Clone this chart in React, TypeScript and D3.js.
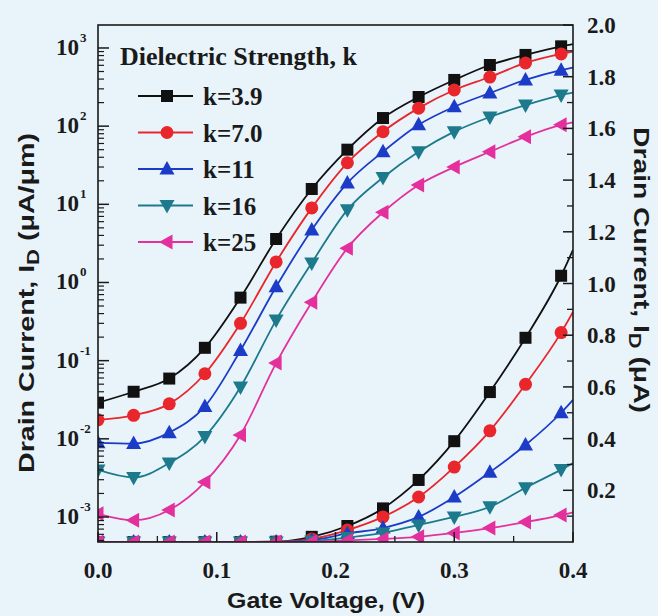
import React from "react";
import * as d3 from "d3";

// Gate voltage sample points (V)
const GATE_V = [0, 0.03, 0.06, 0.09, 0.12, 0.15, 0.18, 0.21, 0.24, 0.27, 0.3, 0.33, 0.36, 0.39];
const EDGE_V = 0.4;

const SERIES_NAMES = ["k=3.9", "k=7.0", "k=11", "k=16", "k=25"];
const SERIES_COLORS = ["#111111", "#e8262c", "#1c3cc8", "#1c7a8c", "#e4309c"];
const SERIES_SHAPES = ["square", "circle", "triUp", "triDown", "triLeft"];

// Drain current on log axis (uA/um)
const LOG_K39 = [0.029, 0.04, 0.059, 0.146, 0.64, 3.6, 15.7, 50, 127, 236, 390, 606, 815, 1050];
const LOG_K70 = [0.0175, 0.02, 0.028, 0.068, 0.3, 1.83, 9.0, 34, 85, 170, 290, 425, 643, 840];
const LOG_K11 = [0.0089, 0.0087, 0.012, 0.026, 0.135, 0.88, 4.7, 18.7, 47, 104, 177, 265, 390, 520];
const LOG_K16 = [0.004, 0.0032, 0.0049, 0.0107, 0.046, 0.33, 1.78, 8.5, 22, 47, 85, 131, 186, 250];
const LOG_K25 = [0.0011, 0.00091, 0.00123, 0.0028, 0.0112, 0.093, 0.56, 2.75, 7.9, 17.7, 30, 47, 73, 104];
const LOG_EDGE = [1120, 900, 560, 268, 112];

// Drain current on linear axis (uA)
const LIN_K39 = [0, 0, 0, 0, 0, 0.001, 0.02, 0.062, 0.13, 0.24, 0.39, 0.58, 0.79, 1.03];
const LIN_K70 = [0, 0, 0, 0, 0, 0.001, 0.012, 0.046, 0.097, 0.174, 0.29, 0.43, 0.61, 0.81];
const LIN_K11 = [0, 0, 0, 0, 0, 0, 0.007, 0.033, 0.054, 0.097, 0.174, 0.27, 0.375, 0.5];
const LIN_K16 = [0, 0, 0, 0, 0, 0, 0.004, 0.017, 0.035, 0.066, 0.097, 0.136, 0.21, 0.28];
const LIN_K25 = [0, 0, 0, 0, 0, 0, 0.001, 0.006, 0.012, 0.02, 0.035, 0.054, 0.077, 0.104];
const LIN_EDGE = [1.13, 0.89, 0.55, 0.305, 0.115];

const LOG_DATA = [LOG_K39, LOG_K70, LOG_K11, LOG_K16, LOG_K25];
const LIN_DATA = [LIN_K39, LIN_K70, LIN_K11, LIN_K16, LIN_K25];

const X_TICKS = [0, 0.1, 0.2, 0.3, 0.4];
const X_MINOR = [0.05, 0.15, 0.25, 0.35];
const LOG_EXPONENTS = [-3, -2, -1, 0, 1, 2, 3];
const RIGHT_TICKS = [0.2, 0.4, 0.6, 0.8, 1.0, 1.2, 1.4, 1.6, 1.8, 2.0];

const W = 658;
const H = 616;
const M = { left: 98, right: 573, top: 25, bottom: 542 };
const BG = "#e9f4fa";
const INK = "#1a1a1a";
const SERIF = "'Liberation Serif', 'Times New Roman', serif";
const SANS = "'Liberation Sans', Arial, sans-serif";

function markerPath(shape: string): string {
  switch (shape) {
    case "square":
      return "M-6,-6H6V6H-6Z";
    case "circle":
      return "M6.5,0A6.5,6.5,0,1,1,-6.5,0A6.5,6.5,0,1,1,6.5,0Z";
    case "triUp":
      return "M0,-8L7.5,5.5L-7.5,5.5Z";
    case "triDown":
      return "M0,8L7.5,-5.5L-7.5,-5.5Z";
    default:
      return "M-8,0L5.5,-7.5L5.5,7.5Z";
  }
}

export default function App() {
  const x = d3.scaleLinear().domain([0, 0.4]).range([M.left, M.right]);
  const yLog = d3.scaleLog().domain([Math.pow(10, -3.32), Math.pow(10, 3.294)]).range([M.bottom, M.top]);
  const yLin = d3.scaleLinear().domain([0, 2.0]).range([M.bottom, M.top]);

  const line = d3
    .line<[number, number]>()
    .x((d) => d[0])
    .y((d) => d[1])
    .curve(d3.curveMonotoneX);

  const logMinor: number[] = [];
  for (let e = -4; e <= 3; e++) {
    for (let m = 2; m <= 9; m++) {
      const v = m * Math.pow(10, e);
      const [lo, hi] = yLog.domain();
      if (v > lo && v < hi) logMinor.push(v);
    }
  }
  const rightMinor = d3.range(1, 20, 2).map((i) => i / 10);

  const legendRows = [96, 132.5, 169, 205.5, 242];

  const seriesPoints = (data: number[][], edges: number[], yScale: (v: number) => number) =>
    data.map((vals, si) => {
      const pts: [number, number][] = GATE_V.map((v, i) => [x(v), yScale(vals[i])]);
      pts.push([x(EDGE_V), yScale(edges[si])]);
      return pts;
    });

  const logPts = seriesPoints(LOG_DATA, LOG_EDGE, (v) => yLog(v));
  const linPts = seriesPoints(LIN_DATA, LIN_EDGE, (v) => yLin(v));

  const drawSeries = (pts: [number, number][][], key: string) =>
    pts.map((p, si) => (
      <g key={key + si}>
        <path d={line(p) || ""} fill="none" stroke={SERIES_COLORS[si]} strokeWidth={1.8} />
        {p.slice(0, GATE_V.length).map((q, i) => (
          <path
            key={i}
            d={markerPath(SERIES_SHAPES[si])}
            transform={`translate(${q[0]},${q[1]})`}
            fill={SERIES_COLORS[si]}
          />
        ))}
      </g>
    ));

  return (
    <svg
      width={W}
      height={H}
      style={{ position: "absolute", left: 0, top: 0, display: "block" }}
      xmlns="http://www.w3.org/2000/svg"
    >
      <defs>
        <clipPath id="plotArea">
          <rect x={M.left} y={M.top} width={M.right - M.left} height={M.bottom - M.top} />
        </clipPath>
      </defs>
      <rect x={0} y={0} width={W} height={H} fill={BG} />

      <g clipPath="url(#plotArea)">
        {drawSeries(linPts, "lin")}
        {drawSeries(logPts, "log")}
      </g>

      {/* frame */}
      <rect
        x={M.left}
        y={M.top}
        width={M.right - M.left}
        height={M.bottom - M.top}
        fill="none"
        stroke={INK}
        strokeWidth={1.6}
      />

      {/* bottom axis */}
      {X_TICKS.map((t) => (
        <g key={"xt" + t}>
          <line x1={x(t)} x2={x(t)} y1={M.bottom} y2={M.bottom - 10} stroke={INK} strokeWidth={1.5} />
          <text x={x(t)} y={578} textAnchor="middle" fontFamily={SERIF} fontWeight="bold" fontSize={23} fill={INK}>
            {t.toFixed(1)}
          </text>
        </g>
      ))}
      {X_MINOR.map((t) => (
        <line key={"xm" + t} x1={x(t)} x2={x(t)} y1={M.bottom} y2={M.bottom - 6} stroke={INK} strokeWidth={1.3} />
      ))}

      {/* left log axis */}
      {LOG_EXPONENTS.map((e) => {
        const yy = yLog(Math.pow(10, e));
        return (
          <g key={"ly" + e}>
            <line x1={M.left} x2={M.left + 11} y1={yy} y2={yy} stroke={INK} strokeWidth={1.5} />
            <text x={M.left - 19} y={yy + 7} textAnchor="end" fontFamily={SERIF} fontWeight="bold" fontSize={23} fill={INK}>
              10
            </text>
            <text x={M.left - 18} y={yy - 6} textAnchor="start" fontFamily={SERIF} fontWeight="bold" fontSize={13} fill={INK}>
              {e < 0 ? `-${Math.abs(e)}` : `${e}`}
            </text>
          </g>
        );
      })}
      {logMinor.map((v, i) => (
        <line key={"lm" + i} x1={M.left} x2={M.left + 6} y1={yLog(v)} y2={yLog(v)} stroke={INK} strokeWidth={1.2} />
      ))}

      {/* right linear axis */}
      {RIGHT_TICKS.map((t) => (
        <g key={"ry" + t}>
          <line x1={M.right} x2={M.right - 10} y1={yLin(t)} y2={yLin(t)} stroke={INK} strokeWidth={1.5} />
          <text x={M.right + 14} y={yLin(t) + 8} textAnchor="start" fontFamily={SERIF} fontWeight="bold" fontSize={23} fill={INK}>
            {t.toFixed(1)}
          </text>
        </g>
      ))}
      {rightMinor.map((t) => (
        <line key={"rm" + t} x1={M.right} x2={M.right - 6} y1={yLin(t)} y2={yLin(t)} stroke={INK} strokeWidth={1.3} />
      ))}

      {/* axis titles */}
      <text
        transform={`translate(34,303) rotate(-90)`}
        textAnchor="middle"
        fontFamily={SANS}
        fontWeight="bold"
        fontSize={22}
        fill={INK}
        textLength={340}
        lengthAdjust="spacingAndGlyphs"
      >
        Drain Current, I
        <tspan fontSize={17} dy={5}>D</tspan>
        <tspan dy={-5}> (μA/μm)</tspan>
      </text>
      <text
        transform={`translate(634,270) rotate(90)`}
        textAnchor="middle"
        fontFamily={SANS}
        fontWeight="bold"
        fontSize={22}
        fill={INK}
        textLength={286}
        lengthAdjust="spacingAndGlyphs"
      >
        Drain Current, I
        <tspan fontSize={17} dy={5}>D</tspan>
        <tspan dy={-5}> (μA)</tspan>
      </text>
      <text
        x={326}
        y={608}
        textAnchor="middle"
        fontFamily={SANS}
        fontWeight="bold"
        fontSize={22}
        fill={INK}
        textLength={198}
        lengthAdjust="spacingAndGlyphs"
      >
        Gate Voltage, (V)
      </text>

      {/* legend */}
      <text
        x={120}
        y={65}
        fontFamily={SERIF}
        fontWeight="bold"
        fontSize={25}
        fill={INK}
        textLength={237}
        lengthAdjust="spacingAndGlyphs"
      >
        Dielectric Strength, k
      </text>
      {SERIES_NAMES.map((name, i) => (
        <g key={"lg" + i}>
          <line x1={138} x2={193} y1={legendRows[i]} y2={legendRows[i]} stroke={SERIES_COLORS[i]} strokeWidth={1.8} />
          <path d={markerPath(SERIES_SHAPES[i])} transform={`translate(167,${legendRows[i]})`} fill={SERIES_COLORS[i]} />
          <text x={203} y={legendRows[i] + 9} fontFamily={SERIF} fontWeight="bold" fontSize={25} fill={INK}>
            {name}
          </text>
        </g>
      ))}
    </svg>
  );
}
